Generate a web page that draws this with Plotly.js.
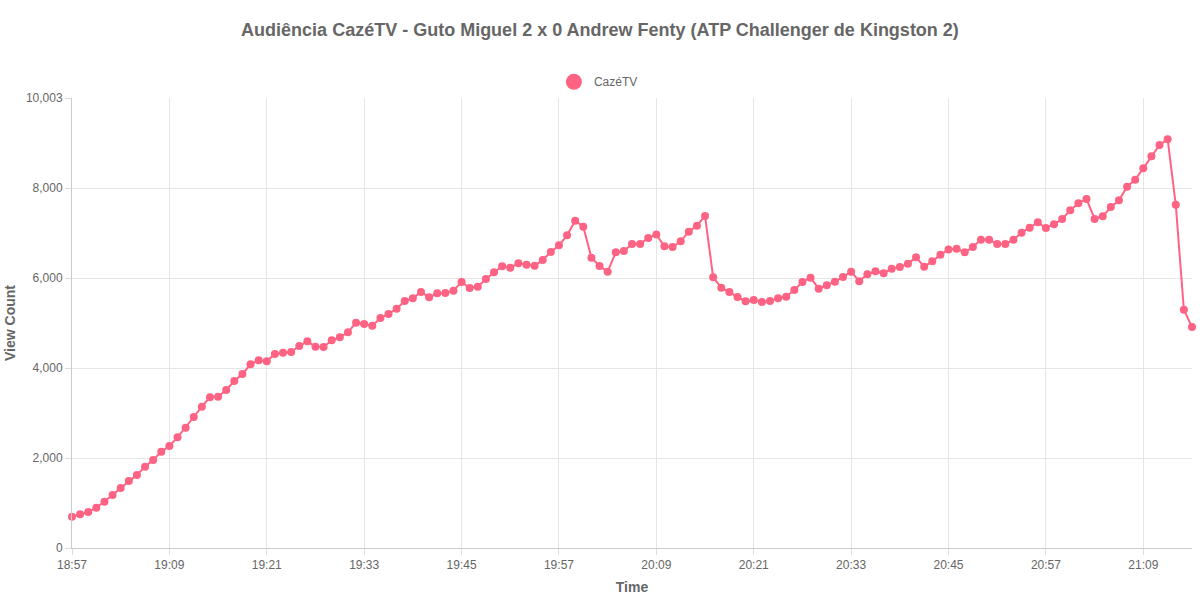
<!DOCTYPE html>
<html>
<head>
<meta charset="utf-8">
<script src="https://cdn.plot.ly/plotly-3.0.1.min.js"></script>
<style>
  html, body { margin: 0; padding: 0; background: #fff; }
  #chart { width: 1200px; height: 600px; }
</style>
</head>
<body>
<div id="chart"></div>
<script>
const times = [
  "18:57","18:58","18:59",
  "19:00","19:01","19:02","19:03","19:04","19:05","19:06","19:07","19:08","19:09",
  "19:10","19:11","19:12","19:13","19:14","19:15","19:16","19:17","19:18","19:19",
  "19:20","19:21","19:22","19:23","19:24","19:25","19:26","19:27","19:28","19:29",
  "19:30","19:31","19:32","19:33","19:34","19:35","19:36","19:37","19:38","19:39",
  "19:40","19:41","19:42","19:43","19:44","19:45","19:46","19:47","19:48","19:49",
  "19:50","19:51","19:52","19:53","19:54","19:55","19:56","19:57","19:58","19:59",
  "20:00","20:01","20:02","20:03","20:04","20:05","20:06","20:07","20:08","20:09",
  "20:10","20:11","20:12","20:13","20:14","20:15","20:16","20:17","20:18","20:19",
  "20:20","20:21","20:22","20:23","20:24","20:25","20:26","20:27","20:28","20:29",
  "20:30","20:31","20:32","20:33","20:34","20:35","20:36","20:37","20:38","20:39",
  "20:40","20:41","20:42","20:43","20:44","20:45","20:46","20:47","20:48","20:49",
  "20:50","20:51","20:52","20:53","20:54","20:55","20:56","20:57","20:58","20:59",
  "21:00","21:01","21:02","21:03","21:04","21:05","21:06","21:07","21:08","21:09",
  "21:10","21:11","21:12","21:13","21:14","21:15"
];

const viewCount = [
  696, 749, 800, 896, 1030, 1178, 1334, 1489, 1623, 1808, 1956, 2142, 2268,
  2460, 2675, 2912, 3142, 3349, 3360, 3512, 3712, 3868, 4083, 4172, 4150, 4312,
  4342, 4357, 4490, 4594, 4475, 4468, 4617, 4683, 4794, 5009, 4980, 4942, 5113,
  5202, 5320, 5491, 5550, 5691, 5573, 5662, 5669, 5720, 5913, 5780, 5809,
  5980, 6128, 6262, 6232, 6328, 6298, 6276, 6402, 6580, 6728, 6950, 7277, 7143,
  6454, 6269, 6143, 6572, 6602, 6758, 6758, 6891, 6966, 6706, 6691, 6817, 7032,
  7165, 7380, 6017,
  5787, 5691, 5580, 5483, 5513, 5469, 5491, 5550, 5587, 5735, 5913, 6010, 5765,
  5839, 5921, 6024, 6143, 5928, 6084, 6150, 6106, 6210, 6247, 6321, 6461, 6254, 6372,
  6517, 6636, 6650, 6572, 6691, 6854, 6854, 6758, 6758, 6854, 7010, 7121, 7239,
  7114, 7195, 7314, 7506, 7662, 7758, 7314, 7373, 7580, 7729, 8032, 8188, 8440,
  8707, 8959, 9085, 7632, 5297, 4913
];

const xTicks = ["18:57","19:09","19:21","19:33","19:45","19:57","20:09","20:21","20:33","20:45","20:57","21:09"];
const yTicks = [0, 2000, 4000, 6000, 8000, 10003];
const yTickText = ["0", "2,000", "4,000", "6,000", "8,000", "10,003"];

const pink = "#ff6384";
const grey = "#666";
const font = "Liberation Sans, Arial, Helvetica, sans-serif";

const data = [
  {
    x: times,
    y: viewCount,
    type: "scatter",
    mode: "lines+markers",
    name: "CazéTV",
    showlegend: false,
    line: { color: pink, width: 2 },
    marker: { color: pink, size: 8 },
    cliponaxis: false
  },
  {
    // legend swatch only
    x: [null],
    y: [null],
    type: "scatter",
    mode: "markers",
    name: "CazéTV",
    marker: { color: pink, size: 16 }
  }
];

const layout = {
  width: 1200,
  height: 600,
  paper_bgcolor: "#fff",
  plot_bgcolor: "#fff",
  font: { family: font, color: grey, size: 12 },
  margin: { l: 72, r: 8, t: 98, b: 52 },
  title: {
    text: "<b>Audiência CazéTV - Guto Miguel 2 x 0 Andrew Fenty (ATP Challenger de Kingston 2)</b>",
    font: { family: font, size: 18, color: grey },
    x: 0.5,
    xanchor: "center",
    y: 0.95,
    yanchor: "middle"
  },
  showlegend: true,
  legend: {
    orientation: "h",
    x: 0.47,
    xanchor: "center",
    y: 1.036,
    yanchor: "middle",
    font: { family: font, size: 12, color: grey },
    itemwidth: 30
  },
  xaxis: {
    type: "category",
    categoryorder: "array",
    categoryarray: times,
    range: [0, times.length - 1],
    tickmode: "array",
    tickvals: xTicks,
    ticktext: xTicks,
    tickangle: 0,
    ticks: "outside",
    ticklen: 6,
    tickcolor: "#ddd",
    showgrid: true,
    gridcolor: "#e5e5e5",
    showline: true,
    linecolor: "#ccc",
    zeroline: false,
    tickfont: { size: 12, color: grey },
    title: { text: "<b>Time</b>", font: { size: 14, color: grey }, standoff: 10 }
  },
  yaxis: {
    range: [0, 10003],
    tickmode: "array",
    tickvals: yTicks,
    ticktext: yTickText,
    ticks: "outside",
    ticklen: 6,
    tickcolor: "#ddd",
    showgrid: true,
    gridcolor: "#e5e5e5",
    showline: true,
    linecolor: "#ccc",
    zeroline: false,
    tickfont: { size: 12, color: grey },
    title: { text: "<b>View Count</b>", font: { size: 14, color: grey }, standoff: 6 }
  }
};

Plotly.newPlot("chart", data, layout, { displayModeBar: false, responsive: false });
</script>
</body>
</html>
